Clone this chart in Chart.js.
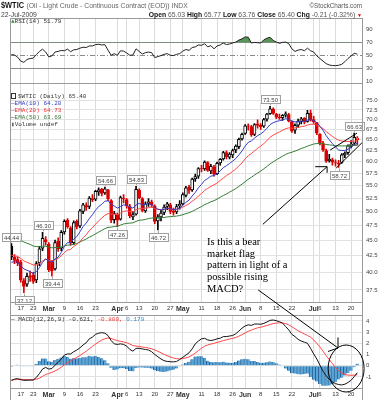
<!DOCTYPE html>
<html>
<head>
<meta charset="utf-8">
<title>$WTIC</title>
<script src="https://cdn.jsdelivr.net/npm/chart.js@4.4.1/dist/chart.umd.min.js"></script>
<style>
  body { margin: 0; background: #fff; }
  #wrap { position: relative; width: 388px; height: 400px; overflow: hidden; background: #fff; }
  #wrap canvas { position: absolute; left: 0; top: 0; }
  .t { position: absolute; white-space: nowrap; font-family: "Liberation Sans", Arial, sans-serif; color: #333; }
  .mono { position: absolute; white-space: nowrap; font-family: "Liberation Mono", "DejaVu Sans Mono", monospace; font-size: 6px; line-height: 6.9px; color: #333; }
  .sym { display: inline-block; font-weight: bold; font-size: 9.5px; color: #111; transform: scaleX(0.78); transform-origin: 0 60%; margin-right: -6px; }
  .ic { display: inline-block; width: 3px; height: 4px; border: 1px solid #333; margin-right: 2px; vertical-align: -1px; }
  #note { position: absolute; font-family: "Liberation Serif", "Times New Roman", serif; font-size: 10.5px; line-height: 11.7px; color: #000; white-space: nowrap; }
</style>
</head>
<body>
<div id="wrap">
  <canvas id="rsiChart" width="388" height="400"></canvas>
  <canvas id="priceChart" width="388" height="400"></canvas>
  <canvas id="macdChart" width="388" height="400"></canvas>

  <div class="t" style="left:1px;top:0px;font-size:6.8px;line-height:10px;color:#666"><span class="sym">$WTIC</span> (Oil - Light Crude - Continuous Contract (EOD)) INDX</div>
  <div class="t" style="right:26px;top:1px;font-size:6.3px;line-height:9px;color:#555">©StockCharts.com</div>
  <div class="t" style="left:1px;top:11px;font-size:6.8px;line-height:8px;color:#444">22-Jul-2009</div>
  <div class="t" style="right:26px;top:11px;font-size:6.8px;line-height:8px;color:#555"><b style="color:#111">Open</b> 65.03 <b style="color:#111">High</b> 65.77 <b style="color:#111">Low</b> 63.76 <b style="color:#111">Close</b> 65.40 <b style="color:#111">Chg</b> -0.21 (-0.32%) <span style="color:#d00;font-size:5px">▼</span></div>

  <div class="mono" style="left:11px;top:19px"><span style="color:#3a8a3a">▲</span>RSI(14) 51.79</div>

  <div class="mono" style="left:11px;top:93px">
    <div><i class="ic"></i>$WTIC (Daily) 65.40</div>
    <div style="color:#3344bb">—EMA(10) 64.20</div>
    <div style="color:#ee3333">—EMA(20) 64.73</div>
    <div style="color:#3a7a3a"><span style="color:#111">—</span>EMA(50) 63.69</div>
    <div><span style="color:#666">▮</span>Volume undef</div>
  </div>

  <div class="mono" style="left:11px;top:316.5px"><span style="color:#111">—</span> MACD(12,26,9) -0.621, <span style="color:#ee3333">-0.800,</span> <span style="color:#3a8ccc">0.179</span></div>

  <div id="note" style="left:207px;top:236px">Is this a bear<br>market flag<br>pattern in light of a<br>possible rising<br>MACD?</div>
</div>

<script>
const tickIdx = [3, 7, 12, 17, 22, 27, 34, 37, 41, 46, 51, 55, 61, 66, 71, 75, 80, 85, 90, 97, 99, 104, 109];
const tickText = ['17', '23', 'Mar', '9', '16', '23', 'Apr', '6', '13', '20', '27', 'May', '11', '18', '26', 'Jun', '8', '15', '22', 'Jul', '6', '13', '20'];

const priceTicks = [37.5, 40, 42.5, 45, 47.5, 50, 52.5, 55, 57.5, 60, 62.5, 65, 67.5, 70, 72.5, 75];
const rsiTicks = [10, 30, 50, 70, 90];
const rsiRef = [70, 50, 30];
const macdTicks = [-1, 0, 1, 2, 3, 4];

// daily candles, Feb 11 - Jul 22 2009
const open = [
  44.0, 42.3, 41.9, 41.5, 38.8, 38.3, 39.5, 39.6, 38.9, 41.4,
  43.7, 45.1, 44.3, 41.5, 40.5, 44.8, 43.7, 46.4, 48.4, 47.1,
  44.6, 48.2, 47.4, 50.0, 51.1, 50.9, 52.4, 52.3, 53.7, 54.2,
  53.5, 54.1, 52.0, 48.5, 49.4, 48.6, 52.5, 52.2, 50.9, 49.0,
  49.5, 54.0, 52.4, 50.1, 51.5, 51.8, 51.0, 48.3, 49.0, 49.8,
  50.9, 51.2, 50.1, 49.9, 51.0, 51.4, 53.0, 54.6, 54.1, 56.3,
  56.9, 58.5, 58.4, 59.8, 58.0, 58.8, 57.4, 59.7, 60.6, 62.0,
  61.0, 61.5, 62.6, 63.4, 65.2, 66.5, 68.4, 68.2, 66.3, 68.9,
  68.5, 68.3, 70.1, 71.5, 72.7, 71.4, 70.6, 70.5, 71.1, 71.3,
  69.5, 67.3, 68.6, 69.5, 70.3, 69.5, 71.7, 70.0, 69.2, 66.3,
  64.1, 62.5, 60.2, 60.4, 59.8, 59.6, 59.8, 61.5, 62.0, 63.6,
  64.2, 65.03
];
const high = [
  44.44, 42.7, 42.3, 41.8, 39.1, 39.9, 40.2, 40.0, 41.6, 44.0,
  46.30, 45.6, 44.6, 41.8, 45.0, 45.4, 46.6, 48.5, 48.7, 47.3,
  48.3, 48.5, 50.4, 51.5, 51.6, 52.8, 53.2, 54.0, 54.5, 54.4,
  54.66, 54.2, 52.2, 50.0, 49.7, 52.9, 53.2, 52.4, 51.3, 50.0,
  54.83, 54.3, 52.6, 51.8, 52.4, 52.1, 51.2, 49.4, 50.2, 51.2,
  51.7, 51.5, 50.6, 51.3, 52.0, 53.5, 54.8, 55.0, 56.5, 57.3,
  58.7, 59.2, 60.2, 60.0, 59.4, 59.2, 59.9, 60.7, 62.3, 62.4,
  62.0, 62.8, 63.8, 65.4, 66.6, 68.7, 68.9, 68.5, 69.0, 69.9,
  69.0, 70.3, 71.6, 73.50, 73.1, 71.6, 71.4, 71.3, 72.0, 71.6,
  69.7, 68.9, 70.1, 70.6, 70.5, 72.4, 72.5, 70.8, 69.3, 66.5,
  64.6, 62.8, 61.6, 60.8, 60.4, 60.3, 61.8, 62.2, 63.8, 64.8,
  66.63, 65.77
];
const low = [
  41.9, 41.3, 41.0, 38.6, 37.12, 38.0, 38.7, 38.4, 38.5, 41.0,
  43.3, 44.2, 40.1, 39.44, 40.3, 43.2, 43.3, 46.0, 47.0, 44.2,
  44.3, 46.9, 47.1, 49.6, 50.2, 50.5, 51.8, 52.0, 53.0, 52.9,
  53.2, 52.0, 48.0, 47.9, 47.26, 48.4, 51.6, 50.6, 48.8, 48.5,
  49.3, 52.4, 49.9, 49.8, 50.9, 50.8, 47.8, 46.72, 48.3, 49.4,
  50.3, 49.6, 49.3, 49.6, 50.4, 51.2, 52.7, 53.4, 53.8, 55.8,
  56.4, 57.8, 58.1, 57.9, 57.4, 56.9, 57.2, 59.2, 60.3, 60.6,
  60.6, 60.9, 62.0, 62.9, 64.9, 66.3, 67.3, 65.8, 66.0, 67.8,
  67.5, 68.0, 69.6, 71.3, 71.3, 70.2, 70.0, 69.8, 70.6, 69.4,
  66.8, 66.5, 68.0, 68.9, 68.9, 69.3, 69.6, 69.0, 66.2, 63.8,
  62.3, 59.8, 59.9, 59.2, 59.0, 58.72, 59.6, 60.9, 61.6, 63.1,
  63.8, 63.76
];
const close = [
  42.3, 41.8, 41.4, 38.9, 38.0, 39.4, 39.3, 38.7, 41.3, 43.6,
  45.3, 44.7, 40.4, 40.2, 44.6, 43.6, 46.3, 48.2, 47.3, 44.5,
  48.0, 47.3, 50.1, 51.2, 50.8, 52.5, 52.2, 53.8, 54.1, 53.4,
  54.3, 52.4, 48.4, 49.6, 48.4, 52.6, 52.4, 51.0, 49.2, 49.4,
  54.2, 52.6, 50.2, 51.4, 51.8, 51.2, 48.2, 49.0, 49.7, 50.8,
  51.4, 50.0, 49.8, 50.9, 51.3, 53.2, 54.5, 54.0, 56.3, 56.8,
  58.5, 58.4, 59.9, 58.1, 59.0, 57.3, 59.6, 60.5, 62.0, 61.1,
  61.7, 62.5, 63.5, 65.1, 66.3, 68.4, 68.3, 66.2, 68.7, 68.5,
  68.2, 70.0, 71.4, 72.8, 71.6, 70.6, 70.5, 71.1, 71.5, 69.6,
  67.1, 68.5, 69.6, 70.2, 69.3, 71.6, 69.9, 69.4, 66.6, 64.2,
  62.6, 60.1, 60.5, 59.9, 59.7, 59.5, 61.5, 61.9, 63.6, 64.0,
  65.6, 65.40
];

const ema10 = [
  41.5, 41.6, 41.5, 41.0, 40.5, 40.3, 40.1, 39.8, 40.1, 40.7,
  41.5, 42.0, 41.7, 41.5, 42.0, 42.3, 43.0, 44.0, 44.6, 44.6,
  45.2, 45.6, 46.4, 47.3, 47.9, 48.7, 49.4, 50.2, 50.9, 51.3,
  51.9, 52.0, 51.3, 51.0, 50.6, 50.9, 51.2, 51.1, 50.8, 50.6,
  51.2, 51.5, 51.2, 51.3, 51.4, 51.3, 50.8, 50.4, 50.3, 50.4,
  50.6, 50.5, 50.3, 50.4, 50.6, 51.1, 51.7, 52.1, 52.9, 53.6,
  54.5, 55.2, 56.0, 56.4, 56.9, 57.0, 57.4, 58.0, 58.7, 59.1,
  59.6, 60.1, 60.7, 61.5, 62.4, 63.5, 64.4, 64.7, 65.4, 66.0,
  66.4, 67.0, 67.8, 68.7, 69.2, 69.5, 69.7, 69.9, 70.2, 70.1,
  69.6, 69.4, 69.4, 69.6, 69.5, 69.9, 69.9, 69.8, 69.2, 68.3,
  67.3, 66.0, 65.0, 64.1, 63.3, 62.6, 62.5, 62.5, 62.8, 63.2,
  63.8, 64.2
];
const ema20 = [
  42.6, 42.5, 42.4, 42.1, 41.7, 41.5, 41.3, 41.1, 41.1, 41.3,
  41.7, 42.0, 41.8, 41.7, 41.9, 42.1, 42.5, 43.0, 43.4, 43.5,
  44.0, 44.3, 44.8, 45.4, 45.9, 46.6, 47.1, 47.7, 48.3, 48.8,
  49.3, 49.6, 49.5, 49.5, 49.4, 49.7, 50.0, 50.1, 50.0, 49.9,
  50.3, 50.5, 50.5, 50.6, 50.7, 50.8, 50.5, 50.4, 50.3, 50.4,
  50.5, 50.4, 50.4, 50.4, 50.5, 50.8, 51.1, 51.4, 51.9, 52.3,
  52.9, 53.4, 54.0, 54.4, 54.8, 55.1, 55.5, 56.0, 56.5, 57.0,
  57.4, 57.9, 58.4, 59.1, 59.7, 60.6, 61.3, 61.8, 62.4, 63.0,
  63.5, 64.1, 64.8, 65.6, 66.1, 66.5, 66.9, 67.3, 67.7, 67.9,
  67.8, 67.9, 68.0, 68.2, 68.3, 68.6, 68.8, 68.8, 68.6, 68.2,
  67.7, 67.0, 66.4, 65.8, 65.3, 64.9, 64.7, 64.6, 64.6, 64.6,
  64.7, 64.73
];
const ema50 = [
  45.5, 45.35, 45.2, 44.95, 44.7, 44.5, 44.3, 44.05, 43.95, 43.95,
  44.0, 44.0, 43.9, 43.75, 43.8, 43.8, 43.9, 44.05, 44.2, 44.2,
  44.35, 44.45, 44.7, 44.95, 45.2, 45.5, 45.75, 46.05, 46.35, 46.65,
  46.95, 47.15, 47.2, 47.3, 47.35, 47.55, 47.75, 47.85, 47.9, 47.95,
  48.2, 48.4, 48.45, 48.55, 48.7, 48.8, 48.8, 48.8, 48.85, 48.9,
  49.0, 49.05, 49.1, 49.15, 49.25, 49.4, 49.6, 49.75, 50.0, 50.3,
  50.6, 50.9, 51.25, 51.5, 51.8, 52.0, 52.3, 52.65, 53.0, 53.3,
  53.65, 54.0, 54.35, 54.8, 55.25, 55.75, 56.25, 56.65, 57.1, 57.55,
  57.95, 58.45, 58.95, 59.5, 59.95, 60.4, 60.8, 61.2, 61.6, 61.9,
  62.1, 62.35, 62.65, 62.95, 63.2, 63.5, 63.75, 64.0, 64.1, 64.1,
  64.05, 63.9, 63.8, 63.7, 63.6, 63.55, 63.55, 63.55, 63.6, 63.6,
  63.65, 63.69
];

const rsi = [
  51, 50.5, 47, 41, 39, 43.5, 45, 45.5, 51, 56,
  59.5, 55, 47.5, 49, 55, 56, 57.5, 57, 59.5, 55.5,
  58.5, 59, 61, 62.5, 62, 64.5, 64.5, 66.5, 67, 66,
  66.5, 58, 50, 52.5, 50, 57, 56.5, 53.5, 50, 50.5,
  60, 56, 52, 54, 55, 54, 46.5, 48, 49.5, 51.5,
  52.5, 50, 49.5, 51.5, 52.5, 56.5, 59, 57.5, 62, 63,
  66, 65.5, 68, 63, 65, 60, 64.5, 66, 69, 66.5,
  67.5, 69, 70.5, 73.5, 75.5, 78.5, 78, 69, 70, 69.5,
  69, 74, 76.5, 78, 73, 70.5, 68.5, 70, 70.5, 68,
  60, 56, 58, 59, 57, 61, 57, 55, 49, 45,
  41, 37, 35, 34, 34, 34.5, 36, 40, 45, 49,
  53, 51.79
];

const macd = [
  -1.34, -1.2, -1.15, -1.25, -1.3, -1.3, -1.28, -1.28, -1.05, -0.7,
  -0.3, -0.15, -0.3, -0.25, 0.05, 0.3, 0.6, 0.95, 1.05, 1.05,
  1.25, 1.4, 1.6, 1.85, 2.05, 2.4, 2.55, 2.8, 2.9, 2.95,
  2.9, 2.7, 2.25, 1.95, 1.9, 1.95, 1.9, 1.75, 1.45, 1.3,
  1.55, 1.55, 1.5, 1.45, 1.4, 1.25, 1.0, 0.8, 0.6, 0.45,
  0.38, 0.36, 0.34, 0.38, 0.55, 0.75, 0.95, 1.15, 1.5, 1.95,
  2.2, 2.4, 2.45, 2.3, 2.25, 2.3, 2.4, 2.45, 2.6, 2.6,
  2.65, 2.7, 2.85, 3.1, 3.35, 3.55, 3.65, 3.6, 3.72, 3.72,
  3.7, 3.78, 3.9, 4.05, 4.08, 4.02, 3.93, 3.8, 3.5, 3.2,
  2.8, 2.6, 2.35, 2.2, 2.1, 2.0, 1.55, 1.05, 0.6, 0.05,
  -0.5, -0.9, -1.22, -1.45, -1.6, -1.68, -1.72, -1.65, -1.5, -1.3,
  -0.98, -0.621
];
const signal = [
  -1.25, -1.24, -1.23, -1.22, -1.23, -1.24, -1.25, -1.25, -1.21, -1.11,
  -0.95, -0.79, -0.69, -0.6, -0.47, -0.32, -0.13, 0.08, 0.27, 0.43,
  0.59, 0.75, 0.92, 1.1, 1.29, 1.51, 1.72, 1.93, 2.12, 2.29,
  2.41, 2.47, 2.43, 2.33, 2.24, 2.18, 2.12, 2.05, 1.93, 1.8,
  1.75, 1.71, 1.67, 1.63, 1.58, 1.51, 1.41, 1.29, 1.15, 1.01,
  0.89, 0.78, 0.69, 0.63, 0.61, 0.64, 0.7, 0.79, 0.93, 1.13,
  1.35, 1.56, 1.74, 1.85, 1.93, 2.0, 2.08, 2.15, 2.24, 2.31,
  2.38, 2.44, 2.52, 2.64, 2.78, 2.93, 3.07, 3.18, 3.29, 3.38,
  3.44, 3.51, 3.59, 3.68, 3.76, 3.81, 3.83, 3.83, 3.76, 3.65,
  3.48, 3.3, 3.11, 2.98, 2.84, 2.7, 2.55, 2.3, 2.0, 1.68,
  1.3, 0.9, 0.55, 0.2, -0.15, -0.45, -0.65, -0.78, -0.84, -0.86,
  -0.84, -0.80
];
const hist = [
  -0.09, 0.04, 0.08, -0.03, -0.07, -0.06, -0.03, -0.03, 0.16, 0.41,
  0.65, 0.64, 0.39, 0.35, 0.52, 0.62, 0.73, 0.87, 0.78, 0.62,
  0.66, 0.65, 0.68, 0.75, 0.76, 0.89, 0.83, 0.87, 0.78, 0.66,
  0.49, 0.23, -0.18, -0.38, -0.34, -0.23, -0.22, -0.3, -0.48, -0.5,
  -0.2, -0.16, -0.17, -0.18, -0.18, -0.26, -0.41, -0.49, -0.55, -0.56,
  -0.51, -0.42, -0.35, -0.25, -0.06, 0.11, 0.25, 0.36, 0.57, 0.82,
  0.85, 0.84, 0.71, 0.45, 0.32, 0.3, 0.32, 0.3, 0.36, 0.29,
  0.27, 0.26, 0.33, 0.46, 0.57, 0.62, 0.58, 0.42, 0.43, 0.34,
  0.26, 0.27, 0.31, 0.37, 0.32, 0.21, 0.1, -0.03, -0.26, -0.45,
  -0.68, -0.7, -0.76, -0.78, -0.74, -0.7, -1.0, -1.25, -1.4, -1.63,
  -1.8, -1.8, -1.77, -1.65, -1.45, -1.23, -1.07, -0.87, -0.66, -0.44,
  -0.14, 0.179
];

// candles that get a high/low price flag
const markIdx = [0, 10, 4, 13, 30, 34, 40, 47, 83, 105, 110];
const markSide = ['high', 'high', 'low', 'low', 'high', 'low', 'high', 'low', 'high', 'low', 'high'];

const fontFam = '"Liberation Sans", Arial, sans-serif';
Chart.defaults.font.family = fontFam;

const days = close.map((_, i) => i);
const red = '#dd0000';
const lineCol = close.map((c, i) => (i === 0 || c >= close[i - 1]) ? '#000' : red);
const bodyFill = close.map((c, i) => c >= open[i] ? '#fff' : lineCol[i]);

function xAxis(labels) {
  return {
    type: 'linear', min: -0.45, max: 112.5, offset: false,
    afterBuildTicks: s => { s.ticks = tickIdx.map(v => ({ value: v })); },
    afterFit: s => { s.height = labels ? 12 : 0; },
    grid: { color: '#dcdcdc', drawTicks: false, offset: false },
    border: { display: false },
    ticks: {
      display: labels, autoSkip: false, maxRotation: 0, padding: 3, color: '#333',
      callback: v => tickText[tickIdx.indexOf(v)],
      font: c => /^[A-Z]/.test(tickText[c.index] || '')
        ? { family: fontFam, size: 7, weight: 'bold' }
        : { family: fontFam, size: 6 }
    }
  };
}

function yAxis(type, min, max, ticks, fmt, grid) {
  return {
    type, min, max, position: 'right',
    afterBuildTicks: s => { s.ticks = ticks.map(v => ({ value: v })); },
    afterFit: s => { s.width = 26; },
    border: { display: false },
    grid: { display: grid, color: '#e2e2e2', drawTicks: false },
    ticks: { autoSkip: false, padding: 4, color: '#444', font: { family: fontFam, size: 6 }, callback: fmt }
  };
}

function frame(bottom) {
  return {
    id: 'frame',
    afterDraw(chart) {
      const { ctx, chartArea: a } = chart;
      const l = Math.round(a.left) + 0.5, r = Math.round(a.right) + 0.5;
      const t = Math.round(a.top) + 0.5, b = Math.round(a.bottom) + 0.5;
      ctx.save();
      ctx.strokeStyle = '#9a9a9a';
      ctx.lineWidth = 1;
      ctx.strokeRect(l, t, r - l, Math.round(bottom) + 0.5 - t);
      ctx.beginPath(); ctx.moveTo(l, b); ctx.lineTo(r, b); ctx.stroke();
      ctx.restore();
    }
  };
}

const rsiLines = {
  id: 'rsiLines',
  beforeDatasetsDraw(chart) {
    const { ctx, chartArea: a, scales: { y } } = chart;
    ctx.save();
    ctx.strokeStyle = '#8a8a8a';
    ctx.lineWidth = 1;
    rsiRef.forEach(v => {
      const py = Math.round(y.getPixelForValue(v)) + 0.5;
      ctx.setLineDash(v === 50 ? [5, 2, 1, 2] : []);
      ctx.beginPath(); ctx.moveTo(a.left, py); ctx.lineTo(a.right, py); ctx.stroke();
    });
    ctx.restore();
  }
};

const marks = {
  id: 'marks',
  afterDatasetsDraw(chart) {
    const { ctx, scales: { x, y } } = chart;
    ctx.save();
    ctx.font = '6px ' + fontFam;
    ctx.textAlign = 'center';
    ctx.textBaseline = 'middle';
    ctx.lineWidth = 1;
    markIdx.forEach((i, k) => {
      const top = markSide[k] === 'high';
      const v = top ? high[i] : low[i];
      const px = Math.round(x.getPixelForValue(i));
      const py = y.getPixelForValue(v);
      const txt = v.toFixed(2);
      const w = Math.round(ctx.measureText(txt).width) + 4, h = 8;
      const by = Math.round(top ? py - 3 - h : py + 3);
      ctx.strokeStyle = '#a0a0a0';
      ctx.beginPath();
      ctx.moveTo(px + 0.5, top ? by + h : by);
      ctx.lineTo(px + 0.5, top ? py - 1 : py + 1);
      ctx.stroke();
      ctx.fillStyle = '#fff';
      ctx.fillRect(px - w / 2, by, w, h);
      ctx.strokeRect(Math.round(px - w / 2) + 0.5, by + 0.5, w, h);
      ctx.fillStyle = '#444';
      ctx.fillText(txt, px + 0.5, by + h / 2 + 1);
    });
    ctx.restore();
  }
};

const common = {
  responsive: false, animation: false, events: [],
  plugins: { legend: { display: false }, tooltip: { enabled: false } }
};

new Chart(document.getElementById('rsiChart'), {
  type: 'line',
  data: {
    datasets: [{
      data: days.map(i => ({ x: i, y: rsi[i] })),
      borderColor: '#222', borderWidth: 1, pointRadius: 0,
      fill: { target: { value: 70 }, above: 'rgb(88,150,88)', below: 'rgba(0,0,0,0)' }
    }]
  },
  options: {
    ...common,
    layout: { padding: { left: 10, right: 0, top: 18, bottom: 317.5 } },
    scales: { x: xAxis(false), y: yAxis('linear', 7.8, 107.8, rsiTicks, v => v, false) }
  },
  plugins: [rsiLines, frame(82.5)]
});

const priceChart = new Chart(document.getElementById('priceChart'), {
  type: 'bar',
  data: {
    datasets: [
      { type: 'line', data: days.map(i => ({ x: i, y: ema10[i] })), borderColor: 'rgb(50,60,200)', borderWidth: 1, pointRadius: 0, order: 0 },
      { type: 'line', data: days.map(i => ({ x: i, y: ema20[i] })), borderColor: 'rgb(255,70,70)', borderWidth: 1, pointRadius: 0, order: 0 },
      { type: 'line', data: days.map(i => ({ x: i, y: ema50[i] })), borderColor: 'rgb(50,125,50)', borderWidth: 1, pointRadius: 0, order: 0 },
      {
        data: days.map(i => ({ x: i, y: [open[i], close[i]] })),
        backgroundColor: bodyFill, borderColor: lineCol, borderWidth: 1, borderSkipped: false,
        barThickness: 3, grouped: false, order: 1
      },
      {
        data: days.map(i => ({ x: i, y: [low[i], high[i]] })),
        backgroundColor: lineCol, borderWidth: 0, barThickness: 1, grouped: false, order: 2
      }
    ]
  },
  options: {
    ...common,
    layout: { padding: { left: 10, right: 0, top: 82.5, bottom: 86 } },
    scales: { x: xAxis(true), y: yAxis('logarithmic', 35.88, 80.17, priceTicks, v => v.toFixed(1), true) }
  },
  plugins: [marks, frame(315)]
});

const notes = {
  id: 'notes',
  afterDraw(chart) {
    const P = priceChart.scales, M = chart.scales;
    const pp = (i, v) => [P.x.getPixelForValue(i), P.y.getPixelForValue(v)];
    const mp = (i, v) => [M.x.getPixelForValue(i), M.y.getPixelForValue(v)];
    const seg = (a, b) => { ctx.beginPath(); ctx.moveTo(a[0], a[1]); ctx.lineTo(b[0], b[1]); ctx.stroke(); };
    const ctx = chart.ctx;
    ctx.save();
    ctx.strokeStyle = '#000';
    ctx.lineWidth = 1;
    // flag channel
    seg(pp(102.3, 62.6), pp(110.9, 66.6));
    seg(pp(104.2, 58.6), pp(112.5, 64.3));
    // arrow to the flag
    const tip1 = pp(101.3, 58.9);
    seg(pp(80.7, 47.7), tip1);
    seg(tip1, pp(97.5, 58.9));
    seg(tip1, pp(101.3, 57.6));
    // arrow down to the MACD
    const tip2 = mp(104.8, 1.58);
    seg(pp(79.2, 37.5), tip2);
    seg(tip2, mp(101.6, 1.27));
    seg(tip2, mp(104.8, 2.52));
    const c = mp(107.4, -0.25);
    ctx.beginPath();
    ctx.ellipse(c[0], c[1], 18, 23.5, 0, 0, Math.PI * 2);
    ctx.stroke();
    ctx.restore();
  }
};

new Chart(document.getElementById('macdChart'), {
  type: 'bar',
  data: {
    datasets: [
      { type: 'line', data: days.map(i => ({ x: i, y: macd[i] })), borderColor: '#111', borderWidth: 1, pointRadius: 0, order: 0 },
      { type: 'line', data: days.map(i => ({ x: i, y: signal[i] })), borderColor: 'rgb(255,70,70)', borderWidth: 1, pointRadius: 0, order: 0 },
      {
        data: days.map(i => ({ x: i, y: hist[i] })),
        backgroundColor: 'rgb(90,165,215)', borderColor: 'rgb(35,95,150)',
        borderWidth: { left: 1, right: 0, top: 0, bottom: 0 }, borderSkipped: false,
        barPercentage: 1, categoryPercentage: 1, grouped: false, order: 1
      }
    ]
  },
  options: {
    ...common,
    layout: { padding: { left: 10, right: 0, top: 315, bottom: 0 } },
    scales: { x: xAxis(true), y: yAxis('linear', -1.99, 4.527, macdTicks, v => String(v), true) }
  },
  plugins: [frame(399.5), notes]
});
</script>
</body>
</html>
